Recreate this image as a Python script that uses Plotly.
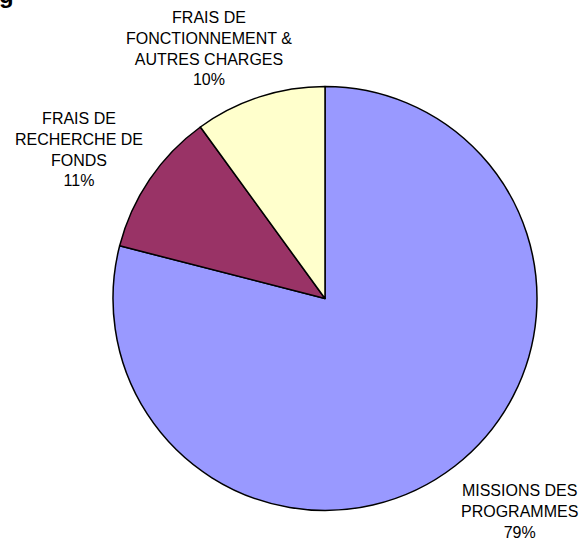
from plotly import graph_objects as go

W, H = 583, 540

labels = [
    "MISSIONS DES<br>PROGRAMMES",
    "FRAIS DE<br>RECHERCHE DE<br>FONDS",
    "FRAIS DE<br>FONCTIONNEMENT &<br>AUTRES CHARGES",
]
values = [79, 11, 10]
colors = ["#9999FF", "#993366", "#FFFFCC"]

# label block centres, in pixels from top-left
label_pos = [(519, 511), (79, 149), (209, 48)]

# pie bounding box in pixels
x0, x1, y0, y1 = 113, 537, 86.5, 510.5

fig = go.Figure(
    go.Pie(
        labels=labels,
        values=values,
        sort=False,
        direction="clockwise",
        rotation=0,
        textinfo="none",
        hoverinfo="label+percent",
        marker=dict(colors=colors, line=dict(color="black", width=1.5)),
        domain=dict(x=[x0 / W, x1 / W], y=[1 - y1 / H, 1 - y0 / H]),
        showlegend=False,
    )
)

total = sum(values)
for lab, v, (px, py) in zip(labels, values, label_pos):
    fig.add_annotation(
        text=f"{lab}<br>{round(100 * v / total)}%",
        x=px / W,
        y=1 - py / H,
        xref="paper",
        yref="paper",
        xanchor="center",
        yanchor="middle",
        showarrow=False,
        align="center",
        font=dict(family="Liberation Sans, Arial", size=16, color="black"),
    )

# clipped bold glyph at the very top-left corner of the original image
fig.add_annotation(
    text="<b>g</b>",
    x=0,
    y=1,
    xref="paper",
    yref="paper",
    xanchor="left",
    yanchor="bottom",
    xshift=-3,
    yshift=-10,
    showarrow=False,
    font=dict(family="Liberation Sans, Arial", size=24, color="black"),
)

fig.update_layout(
    width=W,
    height=H,
    margin=dict(l=0, r=0, t=0, b=0),
    paper_bgcolor="white",
    plot_bgcolor="white",
)

# drop the default page margin so the figure sits at the window's corner
fig.write_html(
    "out.html",
    config={"displayModeBar": False},
    post_script="document.body.style.margin='0';document.body.style.overflow='hidden';",
)
